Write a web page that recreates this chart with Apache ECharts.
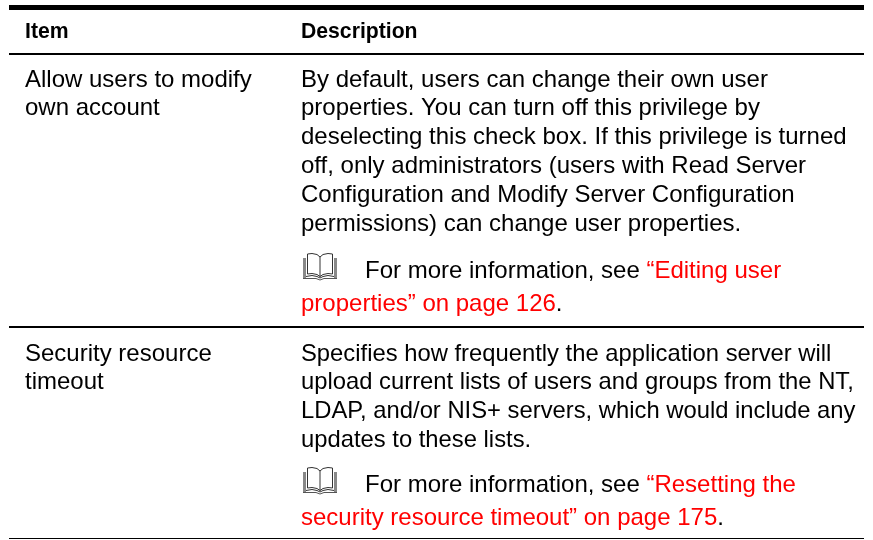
<!DOCTYPE html>
<html>
<head>
<meta charset="utf-8">
<style>
  html, body { margin: 0; padding: 0; background: #fff; }
  #main { width: 873px; height: 540px; }
</style>
<script src="https://cdn.jsdelivr.net/npm/echarts@6/dist/echarts.min.js"></script>
</head>
<body>
<div id="main"></div>
<script>
const headers = ['Item', 'Description']
const itemLines = [
  ['Allow users to modify', 'own account'],
  ['Security resource', 'timeout']
]
const descLines = [
  [
    'By default, users can change their own user',
    'properties. You can turn off this privilege by',
    'deselecting this check box. If this privilege is turned',
    'off, only administrators (users with Read Server',
    'Configuration and Modify Server Configuration',
    'permissions) can change user properties.'
  ],
  [
    'Specifies how frequently the application server will',
    'upload current lists of users and groups from the NT,',
    'LDAP, and/or NIS+ servers, which would include any',
    'updates to these lists.'
  ]
]
const noteIntro = 'For more information, see '
const noteLink1 = ['“Editing user', 'properties” on page 126']
const noteLink2 = ['“Resetting the', 'security resource timeout” on page 175']

const FONT = '"Liberation Sans", Arial, sans-serif'
const BODY = { fontFamily: FONT, fontSize: 24 }

function label (x, y, text, font) {
  return {
    type: 'text',
    x,
    y,
    style: {
      text,
      fill: '#000',
      font: (font || '24px') + ' ' + FONT,
      verticalAlign: 'middle'
    }
  }
}

function richLabel (x, y, text) {
  return {
    type: 'text',
    x,
    y,
    style: {
      text,
      verticalAlign: 'middle',
      rich: {
        k: { ...BODY, fill: '#000', color: '#000' },
        r: { ...BODY, fill: '#f00', color: '#f00' }
      }
    }
  }
}

function rule (y, h) {
  return { type: 'rect', shape: { x: 9, y, width: 855, height: h }, style: { fill: '#000' } }
}

// open book glyph, made of outlines only
function book (x, y) {
  const line = (points, color, w) => ({
    type: 'polyline',
    x,
    y,
    shape: { points },
    style: { fill: 'none', stroke: color || '#333', lineWidth: w || 1 }
  })
  return [
    // stacked page edges at both sides
    line([[1.5, 5], [1.5, 25]], '#888', 3),
    line([[32.5, 5], [32.5, 25]], '#888', 3),
    line([[0, 25.5], [13, 25.5], [17, 27], [21, 25.5], [34, 25.5]], '#555'),
    // pages
    line([[17, 4], [14, 1.5], [9, 0.5], [4.5, 1], [4.5, 21], [9, 20.5], [14, 21.5], [17, 23.5]]),
    line([[17, 4], [20, 1.5], [25, 0.5], [29.5, 1], [29.5, 21], [25, 20.5], [20, 21.5], [17, 23.5]]),
    line([[17, 4], [17, 23.5]]),
    line([[3, 23.5], [9, 22.5], [14, 23.5], [17, 25], [20, 23.5], [25, 22.5], [31, 23.5]])
  ]
}

function note (y, link) {
  return [
    ...book(303, y - 18),
    richLabel(365, y, `{k|${noteIntro}}{r|${link[0]}}`),
    richLabel(301, y + 33, `{r|${link[1]}}{k|.}`)
  ]
}

const els = [rule(5, 5), rule(53, 2), rule(326, 2), rule(538, 1)]
els.push(label(25, 32, headers[0], 'bold 21.2px'), label(301, 32, headers[1], 'bold 21.2px'))

const itemY = [80, 354]
const descY = [80, 354]
const descFont = ['24px', '23.8px']
itemLines.forEach((lines, r) => {
  lines.forEach((t, i) => els.push(label(25, itemY[r] + i * 28.8, t)))
})
descLines.forEach((lines, r) => {
  lines.forEach((t, i) => els.push(label(301, descY[r] + i * 28.8, t, descFont[r])))
})
els.push(...note(271, noteLink1))
els.push(...note(485, noteLink2))

const chart = echarts.init(document.getElementById('main'))
chart.setOption({
  backgroundColor: '#fff',
  animation: false,
  graphic: { elements: els }
})
</script>
</body>
</html>
